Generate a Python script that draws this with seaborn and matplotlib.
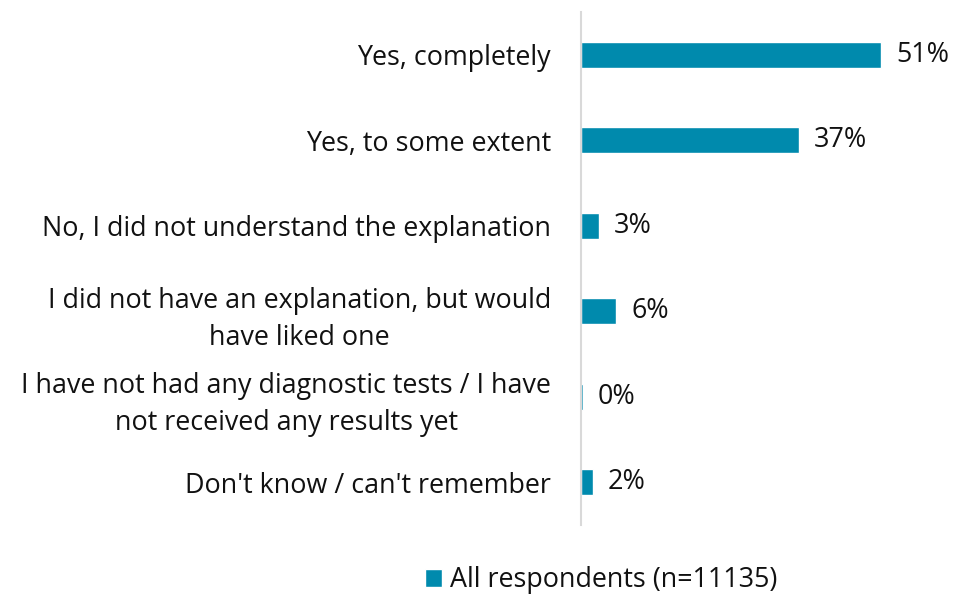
import matplotlib
matplotlib.use("Agg")
import matplotlib.pyplot as plt
import seaborn as sns
import pandas as pd
from matplotlib.patches import Patch

categories = [
    "Yes, completely",
    "Yes, to some extent",
    "No, I did not understand the explanation",
    "I did not have an explanation, but would\nhave liked one",
    "I have not had any diagnostic tests / I have\nnot received any results yet",
    "Don't know / can't remember",
]
values = [51, 37, 3, 6, 0.3, 2]
value_labels = ["51%", "37%", "3%", "6%", "0%", "2%"]
series_name = "All respondents (n=11135)"

sns.set_theme(style="white")
plt.rcParams["font.family"] = ["Open Sans", "DejaVu Sans"]

df = pd.DataFrame({"category": categories, "value": values, "series": series_name})

FS = 19.4
fig = plt.figure(figsize=(9.57, 5.96), dpi=100)
ax = fig.add_axes([581 / 957, 1 - 525 / 596, (945 - 581) / 957, (525 - 12) / 596])
color = "#008AAD"
sns.barplot(data=df, x="value", y="category", hue="series", palette=[color],
            orient="h", width=0.3, saturation=1, ax=ax, legend=False)

ax.set_xlim(0, (945 - 581) / 5.88)
ax.set_ylim(5.5, -0.5)
ax.set_xlabel("")
ax.set_ylabel("")
ax.set_xticks([])
for s in ["top", "right", "bottom"]:
    ax.spines[s].set_visible(False)
ax.spines["left"].set_color("#d9d9d9")
ax.spines["left"].set_linewidth(1.5)
ax.tick_params(axis="y", length=0, pad=21.5, labelsize=FS, labelcolor="#111111")
for lbl in ax.get_yticklabels():
    lbl.set_horizontalalignment("right")
    lbl.set_multialignment("center")
    lbl.set_linespacing(1.42)

for i, (v, t) in enumerate(zip(values, value_labels)):
    ax.text(v + 2.6, i, t, va="center", ha="left", fontsize=FS, color="#111111")

fig.legend(handles=[Patch(facecolor=color, label=series_name)], loc="center",
           bbox_to_anchor=(601 / 957, 1 - 580 / 596), frameon=False, fontsize=FS,
           handlelength=0.65, handleheight=0.65, handletextpad=0.3, labelcolor="#111111")

fig.savefig("out.png", dpi=100)
